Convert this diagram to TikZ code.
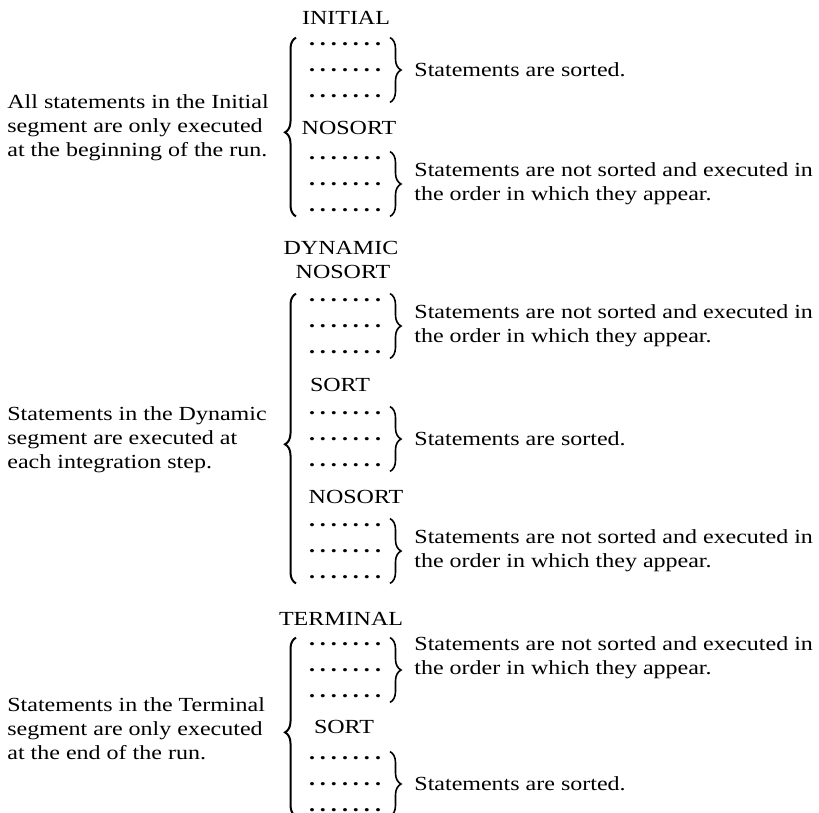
\documentclass[tikz,border=0pt]{standalone}
\usepackage{fontspec}
\setmainfont[FakeStretch=1.2]{Liberation Serif}
\usetikzlibrary{positioning,decorations.pathreplacing}

% one row of statement dots
\newcommand{\stmtdots}{\hbox to 38.6pt{\cleaders\hbox to 5.5pt{\hss\bfseries.\hss}\hfill}}

\begin{document}
\begin{tikzpicture}[x=0.5pt,y=-0.5pt,node distance=13pt,
  every node/.style={inner sep=0pt,font=\fontsize{10}{12}\selectfont},
  stmts/.style={minimum height=6pt},
  note/.style={anchor=west,align=left},
  bigbrace/.style={decorate,decoration={brace,amplitude=5.5pt,aspect=#1},line width=1pt},
  smallbrace/.style={decorate,decoration={brace,amplitude=5.5pt},line width=0.8pt}]
\useasboundingbox (0,0) rectangle (819,813);

% INITIAL segment
\node (init) at (346,18) {INITIAL};
\node[stmts] (i1) at (345,44) {\stmtdots};
\node[stmts] (i2) [below of=i1] {\stmtdots};
\node[stmts] (i3) [below of=i2] {\stmtdots};
\node (ins) at (349,128) {NOSORT};
\node[stmts] (i4) at (345,158) {\stmtdots};
\node[stmts] (i5) [below of=i4] {\stmtdots};
\node[stmts] (i6) [below of=i5] {\stmtdots};
\node[note] (initdesc) at (7,128) {All statements in the Initial\\segment are only executed\\at the beginning of the run.};
\node[note] (n1) [right=15pt of i2] {Statements are sorted.};
\node[note] (n2) [right=15pt of i5] {Statements are not sorted and executed in\\the order in which they appear.};
\draw[bigbrace=0.47] ([xshift=-5pt]i6.south west) -- ([xshift=-5pt]i1.north west);
\draw[smallbrace] ([xshift=3pt]i1.north east) -- ([xshift=3pt]i3.south east);
\draw[smallbrace] ([xshift=3pt]i4.north east) -- ([xshift=3pt]i6.south east);

% DYNAMIC segment
\node (dyn) at (341,248) {DYNAMIC};
\node (dns1) at (343,272) {NOSORT};
\node[stmts] (d1) at (345,300) {\stmtdots};
\node[stmts] (d2) [below of=d1] {\stmtdots};
\node[stmts] (d3) [below of=d2] {\stmtdots};
\node (ds) at (340,385) {SORT};
\node[stmts] (d4) at (345,413) {\stmtdots};
\node[stmts] (d5) [below of=d4] {\stmtdots};
\node[stmts] (d6) [below of=d5] {\stmtdots};
\node (dns2) at (356,497) {NOSORT};
\node[stmts] (d7) at (345,525) {\stmtdots};
\node[stmts] (d8) [below of=d7] {\stmtdots};
\node[stmts] (d9) [below of=d8] {\stmtdots};
\node[note] (dyndesc) at (7,440) {Statements in the Dynamic\\segment are executed at\\each integration step.};
\node[note] (n3) [right=15pt of d2] {Statements are not sorted and executed in\\the order in which they appear.};
\node[note] (n4) [right=15pt of d5] {Statements are sorted.};
\node[note] (n5) [right=15pt of d8] {Statements are not sorted and executed in\\the order in which they appear.};
\draw[bigbrace=0.48] ([xshift=-5pt]d9.south west) -- ([xshift=-5pt]d1.north west);
\draw[smallbrace] ([xshift=3pt]d1.north east) -- ([xshift=3pt]d3.south east);
\draw[smallbrace] ([xshift=3pt]d4.north east) -- ([xshift=3pt]d6.south east);
\draw[smallbrace] ([xshift=3pt]d7.north east) -- ([xshift=3pt]d9.south east);

% TERMINAL segment
\node (term) at (341,619) {TERMINAL};
\node[stmts] (t1) at (345,644) {\stmtdots};
\node[stmts] (t2) [below of=t1] {\stmtdots};
\node[stmts] (t3) [below of=t2] {\stmtdots};
\node (ts) at (344,727) {SORT};
\node[stmts] (t4) at (345,758) {\stmtdots};
\node[stmts] (t5) [below of=t4] {\stmtdots};
\node[stmts] (t6) [below of=t5] {\stmtdots};
\node[note] (termdesc) at (7,729) {Statements in the Terminal\\segment are only executed\\at the end of the run.};
\node[note] (n6) [right=15pt of t2,yshift=6pt] {Statements are not sorted and executed in\\the order in which they appear.};
\node[note] (n7) [right=15pt of t5] {Statements are sorted.};
\draw[bigbrace=0.47] ([xshift=-5pt]t6.south west) -- ([xshift=-5pt]t1.north west);
\draw[smallbrace] ([xshift=3pt]t1.north east) -- ([xshift=3pt]t3.south east);
\draw[smallbrace] ([xshift=3pt]t4.north east) -- ([xshift=3pt]t6.south east);
\end{tikzpicture}
\end{document}
